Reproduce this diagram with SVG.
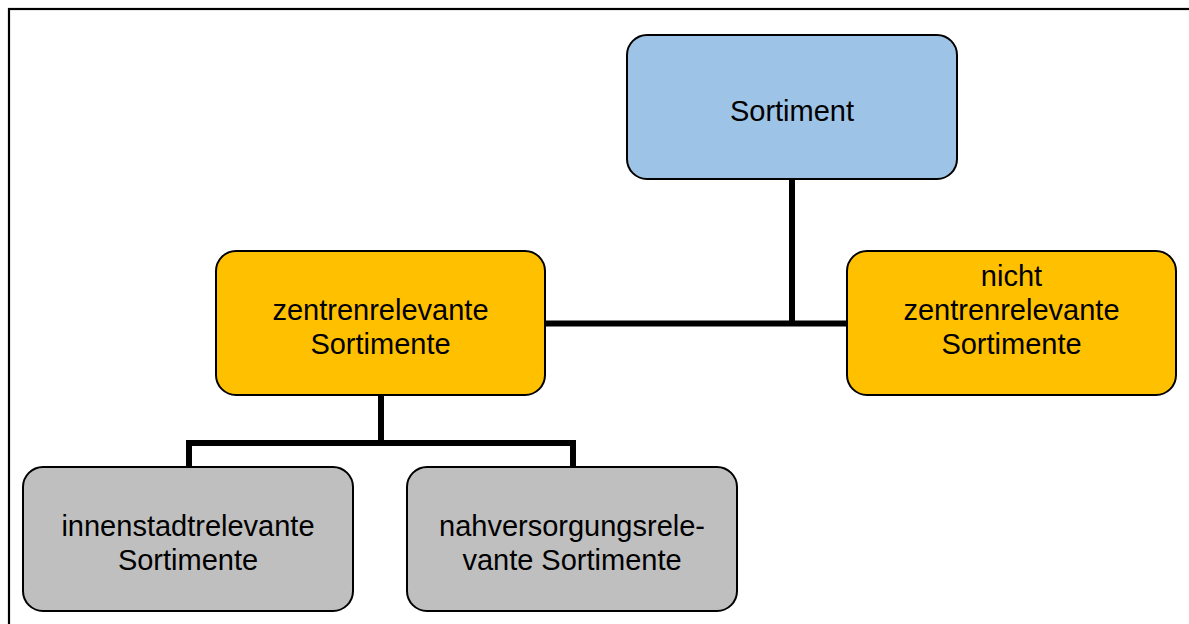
<svg xmlns="http://www.w3.org/2000/svg" width="1189" height="624" viewBox="0 0 1189 624">
<style>
.box{stroke:#000;stroke-width:2}
.blue{fill:#9DC3E6}
.orange{fill:#FFC000}
.gray{fill:#BFBFBF}
.lbl{font-family:"Liberation Sans",Arial,sans-serif;font-size:29px;fill:#000;text-anchor:middle}
.conn{fill:none;stroke:#000;stroke-width:6}
</style>
<rect x="0" y="0" width="1189" height="624" fill="#fff"/>
<rect x="9" y="9" width="1220" height="700" fill="none" stroke="#000" stroke-width="2.2"/>
<g id="connectors">
<path class="conn" d="M792,179 V323.5 M545,323.5 H847"/>
<path class="conn" d="M381,395 V443 M189,443 H573 M189,440 V467 M573,440 V467"/>
</g>
<g id="sortiment">
<rect class="box blue" x="627" y="35" width="330" height="144" rx="20"/>
<text class="lbl" x="792" y="121">Sortiment</text>
</g>
<g id="zentrenrelevante">
<rect class="box orange" x="216" y="251" width="329" height="144" rx="20"/>
<text class="lbl" x="380.5" y="320">zentrenrelevante</text>
<text class="lbl" x="380.5" y="353.5">Sortimente</text>
</g>
<g id="nicht-zentrenrelevante">
<rect class="box orange" x="847" y="251" width="329" height="144" rx="20"/>
<text class="lbl" x="1011.5" y="286">nicht</text>
<text class="lbl" x="1011.5" y="320">zentrenrelevante</text>
<text class="lbl" x="1011.5" y="353.5">Sortimente</text>
</g>
<g id="innenstadtrelevante">
<rect class="box gray" x="23" y="467" width="330" height="144" rx="20"/>
<text class="lbl" x="188" y="536">innenstadtrelevante</text>
<text class="lbl" x="188" y="569.5">Sortimente</text>
</g>
<g id="nahversorgungsrelevante">
<rect class="box gray" x="407" y="467" width="330" height="144" rx="20"/>
<text class="lbl" x="572" y="536">nahversorgungsrele-</text>
<text class="lbl" x="572" y="569.5">vante Sortimente</text>
</g>
</svg>
